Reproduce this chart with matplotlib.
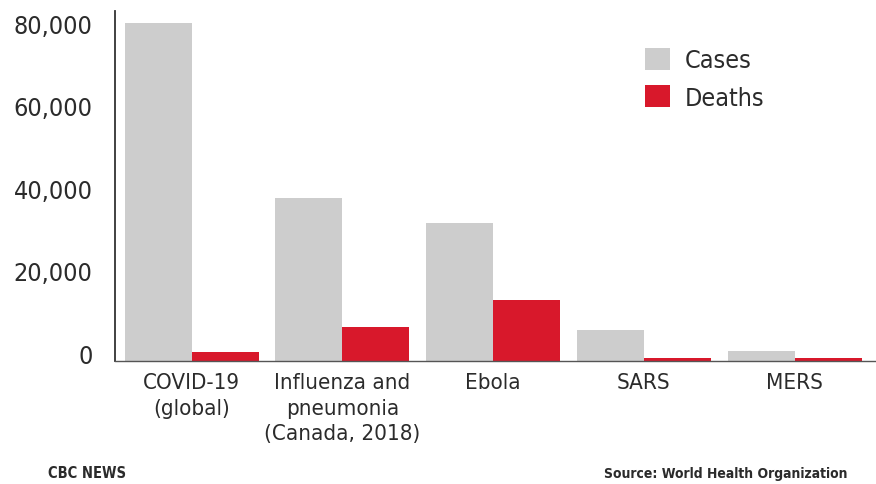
import numpy as np
import matplotlib
matplotlib.use('Agg')
import matplotlib.pyplot as plt
import matplotlib.transforms as mtrans
from matplotlib.ticker import FuncFormatter
from matplotlib.patches import Patch

plt.rcParams['font.family'] = ['DejaVu Sans']
plt.rcParams['font.stretch'] = 'condensed'

categories = ['COVID-19\n(global)', 'Influenza and\npneumonia\n(Canada, 2018)',
              'Ebola', 'SARS', 'MERS']
cases = [82000, 39700, 33600, 7500, 2400]
deaths = [2200, 8300, 14800, 700, 700]
y_ticks = [0, 20000, 40000, 60000, 80000]

GRAY = '#cdcdcd'
RED = '#d8182b'
TXT = '#2b2b2b'

fig = plt.figure(figsize=(8.76, 4.85), dpi=100)
ax = fig.add_axes([0.131, 0.2536, 0.869, 0.7216])

x = np.arange(len(categories))
w = 0.445
ax.bar(x - w / 2, cases, width=w, color=GRAY, label='Cases')
ax.bar(x + w / 2, deaths, width=w, color=RED, label='Deaths')

ax.set_xlim(-0.51, 4.54)
ax.set_ylim(0, 85000)
ax.set_yticks(y_ticks)
ax.yaxis.set_major_formatter(FuncFormatter(lambda v, p: f'{int(v):,}'))
ax.set_xticks(x)
ax.set_xticklabels(categories, fontsize=16, color=TXT, linespacing=1.35)
ax.tick_params(axis='y', labelsize=18, colors=TXT, length=0, pad=16)
ax.tick_params(axis='x', length=0, pad=8)

# tick labels sit a little above their gridline in the original
shift = mtrans.ScaledTranslation(0, 8 / 100, fig.dpi_scale_trans)
for lab in ax.get_yticklabels():
    lab.set_transform(lab.get_transform() + shift)

for s in ('top', 'right'):
    ax.spines[s].set_visible(False)
ax.spines['left'].set_color('#333333')
ax.spines['left'].set_linewidth(1.3)
ax.spines['bottom'].set_color('#555555')
ax.spines['bottom'].set_linewidth(1.0)

handles = [Patch(facecolor=GRAY, label='Cases'),
           Patch(facecolor=RED, label='Deaths')]
ax.legend(handles=handles, loc='upper left', bbox_to_anchor=(0.667, 0.96),
          frameon=False, fontsize=18, handlelength=1.0, handleheight=1.0,
          handletextpad=0.6, labelspacing=0.5, labelcolor=TXT)

fig.text(0.055, 0.008, 'CBC NEWS', fontsize=10.5, fontweight='bold',
         color=TXT, ha='left', va='bottom')
fig.text(0.968, 0.008, 'Source: World Health Organization', fontsize=10,
         fontweight='bold', color=TXT, ha='right', va='bottom')

fig.savefig('out.png', dpi=100, facecolor='white')
